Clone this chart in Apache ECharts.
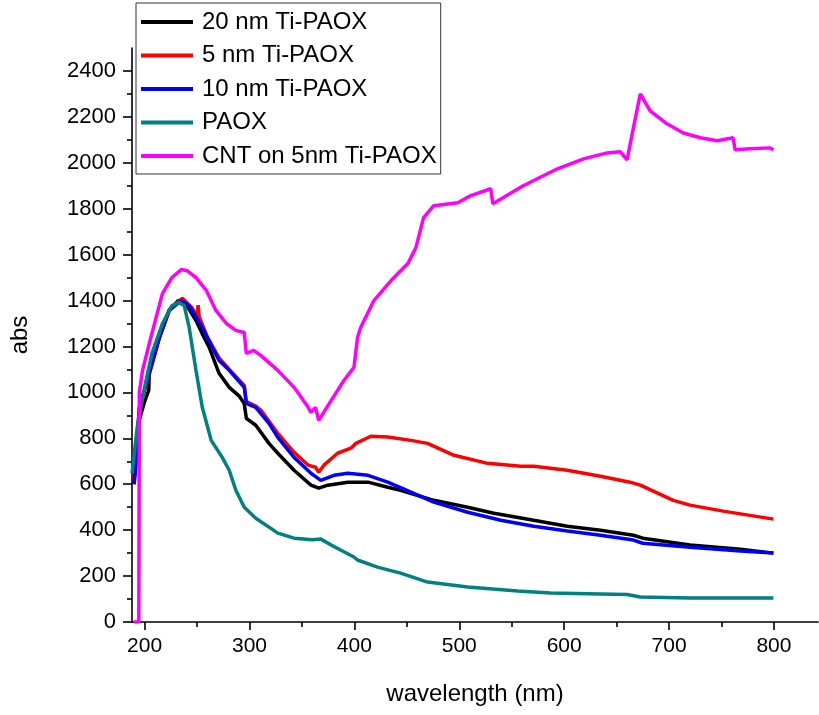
<!DOCTYPE html>
<html>
<head>
<meta charset="utf-8">
<script src="https://cdn.jsdelivr.net/npm/echarts@6/dist/echarts.min.js"></script>
<style>html,body{margin:0;padding:0;background:#fff;}#c{width:819px;height:715px;}</style>
</head>
<body>
<div id="c"></div>
<script>
// ---- data ----
const seriesNames = ['20 nm Ti-PAOX', '5 nm Ti-PAOX', '10 nm Ti-PAOX', 'PAOX', 'CNT on 5nm Ti-PAOX'];
const seriesColors = ['#000000', '#ff0000', '#0000ff', '#008080', '#ff00ff'];

const wl20 = [190,195,200,204,204.5,214,223.5,232,236,242,249,255,261.6,271,280.7,290,295,297,306,318.6,327,342.5,358.6,366,374.7,393.7,413,431.8,444,475.7,508,533,571,603,634.6,666,675,720,768,799.5];
const abs20 = [600,880,960,1010,1090,1239,1357,1400,1398,1365,1313,1255,1196,1083,1022,985,952,887,857,778,735,661,596,583,596,609,609,587,574,530,500,474,443,417,400,378,365,335,317,300];

const wl5 = [190,195,204.5,214,223.5,236,245,250,251,252,260,271,280.7,295,297,306,311,327,342.5,356,363,366,371,384,396.7,401.5,415.7,431.8,453.8,469.8,495,527,558.6,571,603,634.6,662.8,672.6,704,720,751.6,799.5];
const abs5 = [620,930,1080,1235,1360,1410,1370,1330,1380,1330,1240,1150,1100,1030,960,940,922,822,739,683,674,652,683,735,757,778,809,806,791,778,726,691,678,678,661,635,609,596,530,509,483,448];

const wl10 = [190,191,195,204.5,214,223.5,235,242.5,255,271,280.7,295,297,306,318.6,327,342.5,358.6,368,380.6,393.7,413,431.8,444,475.7,508,539.6,571,603,634.6,666,675,720,768,799.5];
const abs10 = [600,660,935,1083,1239,1357,1400,1378,1283,1139,1096,1022,952,935,865,804,717,648,617,639,648,639,609,585,522,478,443,417,396,378,357,343,326,309,300];

const wlP = [188,193,200,207,217,226,233,237.8,242.5,249,255,263.5,274,280.7,287,295,306,318.6,327,342.5,360,368,380,399.6,403,422,444,469.8,508,555.6,587,634.6,660,672.6,720,799.5];
const absP = [648,848,1022,1170,1300,1378,1391,1378,1283,1096,935,791,717,661,574,500,452,413,387,365,358,361,330,283,270,239,213,174,152,135,126,122,120,109,104,104];

const wlC = [190,194.5,195,198,204.5,211,217,226,235,240.6,249,259,268,278,287,295,297,304,311,327,342.5,356,358.6,363,366,378,390,399.6,403,406,418.6,435,451,458.6,466,475.7,498.6,511,530,532,561,593.6,618.5,641,653.7,660,666,672.6,682,698,713.7,729.8,746,761,763,777,796,799.5];
const absC = [0,0,1000,1095,1213,1326,1430,1500,1535,1530,1500,1443,1357,1300,1270,1261,1170,1183,1160,1096,1022,935,913,935,878,965,1052,1109,1239,1283,1400,1487,1561,1630,1761,1813,1826,1857,1887,1822,1900,1974,2017,2043,2048,2013,2152,2300,2226,2170,2130,2109,2096,2109,2057,2061,2065,2057];

const xMajorTicks = [200,300,400,500,600,700,800];
const xMinorTicks = [250,350,450,550,650,750];
const yMajorTicks = [0,200,400,600,800,1000,1200,1400,1600,1800,2000,2200,2400];
const yMinorTicks = [100,300,500,700,900,1100,1300,1500,1700,1900,2100,2300];

const xs = [wl20, wl5, wl10, wlP, wlC];
const ys = [abs20, abs5, abs10, absP, absC];

const FONT = 'Liberation Sans, Arial, sans-serif';
const chart = echarts.init(document.getElementById('c'), null, {renderer: 'canvas'});

const axisLineStyle = {color: '#000', width: 1.6};
const baseX = {type: 'value', min: 188, max: 842};
const baseY = {type: 'value', min: 0, max: 2500};
const plain = v => String(v);

chart.setOption({
  animation: false,
  backgroundColor: '#fff',
  grid: {left: 130, right: 1, top: 48, bottom: 93, containLabel: false},
  legend: {
    orient: 'vertical', left: 136, top: 3,
    data: seriesNames.map(n => ({name: n, icon: 'rect'})),
    itemWidth: 52, itemHeight: 4, itemGap: 9.5,
    padding: [7, 4, 6, 5],
    borderColor: '#333', borderWidth: 1, backgroundColor: '#fff',
    textStyle: {fontFamily: FONT, fontSize: 24, color: '#000', padding: [0, 0, 0, 4]},
    selectedMode: false
  },
  xAxis: [
    Object.assign({}, baseX, {
      position: 'bottom',
      name: 'wavelength (nm)', nameLocation: 'middle', nameGap: 60,
      nameTextStyle: {fontFamily: FONT, fontSize: 24, color: '#000'},
      axisLine: {show: true, onZero: false, lineStyle: axisLineStyle},
      axisTick: {show: true, inside: false, length: 8, lineStyle: {color: '#000', width: 1.6}, customValues: xMajorTicks},
      axisLabel: {show: true, margin: 14, fontFamily: FONT, fontSize: 21, color: '#000', customValues: xMajorTicks, formatter: plain},
      splitLine: {show: false}
    }),
    Object.assign({}, baseX, {
      position: 'bottom',
      axisLine: {show: false, onZero: false},
      axisTick: {show: true, inside: false, length: 5, lineStyle: {color: '#000', width: 1.6}, customValues: xMinorTicks},
      axisLabel: {show: false, customValues: xMinorTicks},
      splitLine: {show: false}
    })
  ],
  yAxis: [
    Object.assign({}, baseY, {
      position: 'left',
      name: 'abs', nameLocation: 'middle', nameGap: 100, nameRotate: 90,
      nameTextStyle: {fontFamily: FONT, fontSize: 24, color: '#000'},
      axisLine: {show: true, onZero: false, lineStyle: axisLineStyle},
      axisTick: {show: true, inside: false, length: 9, lineStyle: {color: '#000', width: 1.6}, customValues: yMajorTicks},
      axisLabel: {show: true, margin: 16, fontFamily: FONT, fontSize: 22, color: '#000', customValues: yMajorTicks, formatter: plain},
      splitLine: {show: false}
    }),
    Object.assign({}, baseY, {
      position: 'left',
      axisLine: {show: false, onZero: false},
      axisTick: {show: true, inside: false, length: 5, lineStyle: {color: '#000', width: 1.6}, customValues: yMinorTicks},
      axisLabel: {show: false, customValues: yMinorTicks},
      splitLine: {show: false}
    })
  ],
  series: seriesNames.map((n, i) => ({
    name: n, type: 'line', xAxisIndex: 0, yAxisIndex: 0,
    data: xs[i].map((x, k) => [x, ys[i][k]]),
    symbol: 'none', smooth: false,
    lineStyle: {color: seriesColors[i], width: 3.5},
    itemStyle: {color: seriesColors[i]},
    z: 2 + i
  }))
});
</script>
</body>
</html>
